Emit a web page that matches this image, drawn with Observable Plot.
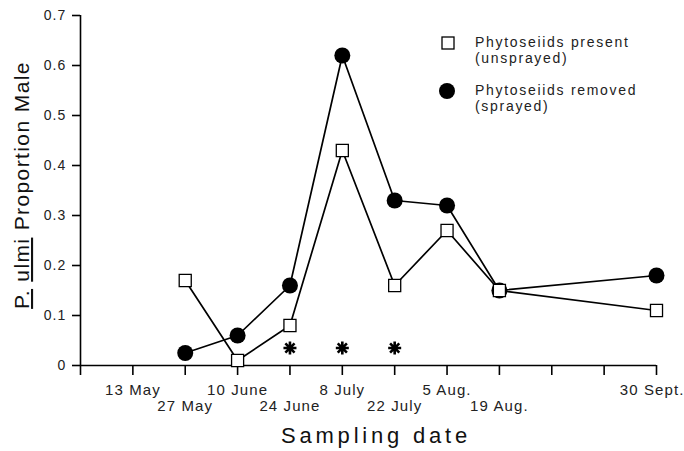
<!DOCTYPE html>
<html>
<head>
<meta charset="utf-8">
<script src="https://cdn.jsdelivr.net/npm/d3@7"></script>
<script src="https://cdn.jsdelivr.net/npm/@observablehq/plot@0.6"></script>
<style>
  html, body { margin: 0; padding: 0; background: #fff; }
  #chart { width: 684px; height: 451px; }
  svg { font-family: "Liberation Sans", Arial, Helvetica, sans-serif; }
</style>
</head>
<body>
<div id="chart"></div>
<script>
// ---- data ----
const year = 1985;
const tickDates = ["04-29","05-13","05-27","06-10","06-24","07-08","07-22","08-05","08-19","09-02","09-16","09-30"];
const labelRow1 = ["13 May","10 June","8 July","5 Aug."];
const labelRow1Dates = ["05-13","06-10","07-08","08-05"];
const labelRow2 = ["27 May","24 June","22 July","19 Aug."];
const labelRow2Dates = ["05-27","06-24","07-22","08-19"];
const labelEnd = ["30 Sept."];
const labelEndDates = ["09-30"];
const sampleDates = ["05-27","06-10","06-24","07-08","07-22","08-05","08-19","09-30"];
const present = [0.17, 0.01, 0.08, 0.43, 0.16, 0.27, 0.15, 0.11];
const removed = [0.025, 0.06, 0.16, 0.62, 0.33, 0.32, 0.15, 0.18];
const starDates = ["06-24","07-08","07-22"];
const starLevel = 0.035;
const yTicks = [0, 0.1, 0.2, 0.3, 0.4, 0.5, 0.6, 0.7];
const seriesNames = ["Phytoseiids present", "Phytoseiids removed"];
const seriesNotes = ["(unsprayed)", "(sprayed)"];
const xTitle = "Sampling date";
const yTitleParts = [["P.", true], [" ", false], ["ulmi", true], [" Proportion Male", false]];

// ---- build ----
const toDate = d => new Date(`${year}-${d}T00:00:00Z`);
const ticks = tickDates.map(toDate);
const labelMap = new Map([
  ...labelRow1Dates.map((d, i) => [+toDate(d), labelRow1[i]]),
  ...labelRow2Dates.map((d, i) => [+toDate(d), labelRow2[i]]),
  ...labelEndDates.map((d, i) => [+toDate(d), labelEnd[i]])
]);
const presentData = sampleDates.map((d, i) => ({date: toDate(d), value: present[i]}));
const removedData = sampleDates.map((d, i) => ({date: toDate(d), value: removed[i]}));
const starData = starDates.map(d => ({date: toDate(d), value: starLevel}));

const star8 = {
  draw(context, size) {
    const r = Math.sqrt(size / Math.PI);
    for (let k = 0; k < 4; k++) {
      const a = k * Math.PI / 4;
      context.moveTo(-r * Math.cos(a), -r * Math.sin(a));
      context.lineTo(r * Math.cos(a), r * Math.sin(a));
    }
  }
};

const fmtX = d => labelMap.get(+d);

const chart = Plot.plot({
  width: 684,
  height: 451,
  marginLeft: 80,
  marginRight: 28,
  marginTop: 15,
  marginBottom: 86,
  style: {fontFamily: '"Liberation Sans", Arial, Helvetica, sans-serif', background: "#fff", overflow: "visible"},
  x: {type: "utc", domain: [ticks[0], ticks[ticks.length - 1]]},
  y: {domain: [0, 0.7]},
  marks: [
    Plot.ruleX([ticks[0]], {stroke: "#000", strokeWidth: 1.6}),
    Plot.ruleY([0], {stroke: "#000", strokeWidth: 1.6}),
    Plot.axisY(yTicks, {
      tickSize: 8, tickPadding: 6, strokeWidth: 1.6, label: null,
      tickFormat: d => d === 0 ? "0" : d.toFixed(1),
      fontSize: 14, fill: "#222"
    }),
    Plot.axisX(ticks, {tickSize: 10, strokeWidth: 1.6, tickFormat: () => "", label: null}),
    Plot.axisX(labelRow1Dates.map(toDate), {
      tickSize: 0, tickPadding: 19, label: null, fontSize: 15, fill: "#222", tickFormat: fmtX
    }),
    Plot.axisX(labelRow2Dates.map(toDate), {
      tickSize: 0, tickPadding: 35, label: null, fontSize: 15, fill: "#222", tickFormat: fmtX
    }),
    Plot.axisX(labelEndDates.map(toDate), {
      tickSize: 0, tickPadding: 19, label: null, fontSize: 15, fill: "#222", tickFormat: fmtX,
      textAnchor: "end", dx: 28
    }),
    Plot.line(removedData, {x: "date", y: "value", stroke: "#000", strokeWidth: 1.7}),
    Plot.line(presentData, {x: "date", y: "value", stroke: "#000", strokeWidth: 1.7}),
    Plot.dot(removedData, {x: "date", y: "value", r: 8, fill: "#000", stroke: "none"}),
    Plot.dot(presentData, {x: "date", y: "value", r: 6.8, symbol: "square", fill: "#fff", stroke: "#000", strokeWidth: 1.3}),
    Plot.dot(starData, {x: "date", y: "value", r: 6.5, symbol: star8, stroke: "#000", strokeWidth: 2.6, fill: "none"})
  ]
});

document.getElementById("chart").appendChild(chart);

const svg = d3.select(chart);

// loose tracking like the original typesetting
svg.selectAll("[aria-label='x-axis tick label'] text, [aria-label='y-axis tick label'] text")
  .attr("letter-spacing", "1.1");

// x axis title
svg.append("text")
  .attr("x", 376).attr("y", 442.5)
  .attr("text-anchor", "middle")
  .attr("font-size", 22).attr("letter-spacing", 3.8)
  .attr("fill", "#111")
  .text(xTitle);

// y axis title, with underlined parts
const yt = svg.append("text")
  .attr("transform", "translate(29,185) rotate(-90)")
  .attr("text-anchor", "middle")
  .attr("font-size", 21).attr("letter-spacing", 1.4)
  .attr("fill", "#111");
yTitleParts.forEach(([s, u]) => {
  yt.append("tspan").attr("text-decoration", u ? "underline" : null).text(s);
});

// legend
const leg = svg.append("g").attr("font-size", 14).attr("letter-spacing", 1.7)
  .attr("fill", "#222").attr("text-anchor", "start");
leg.append("rect").attr("x", 442).attr("y", 37).attr("width", 12).attr("height", 12)
  .attr("fill", "#fff").attr("stroke", "#000").attr("stroke-width", 1.3);
leg.append("text").attr("x", 475).attr("y", 47).text(seriesNames[0]);
leg.append("text").attr("x", 475).attr("y", 63).text(seriesNotes[0]);
leg.append("circle").attr("cx", 447).attr("cy", 91).attr("r", 8).attr("fill", "#000");
leg.append("text").attr("x", 475).attr("y", 95).text(seriesNames[1]);
leg.append("text").attr("x", 475).attr("y", 111).text(seriesNotes[1]);
</script>
</body>
</html>
